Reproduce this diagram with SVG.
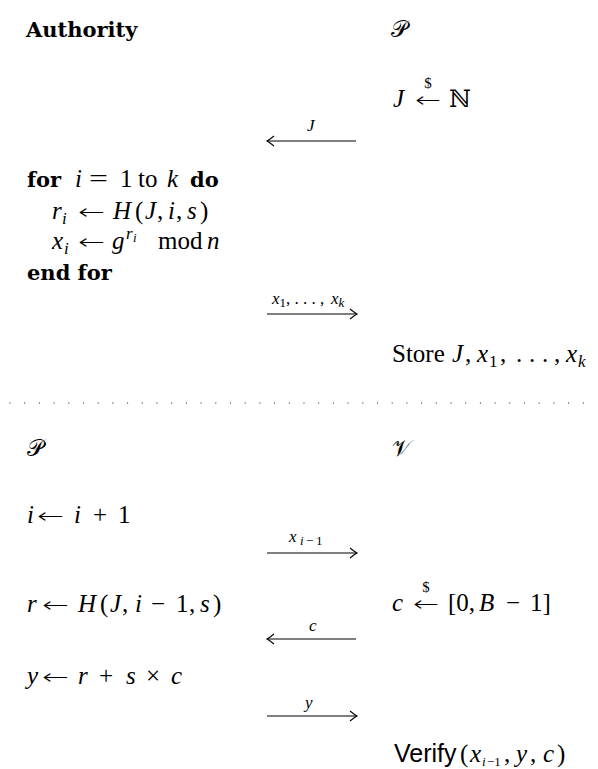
<svg xmlns="http://www.w3.org/2000/svg" width="598" height="769" viewBox="0 0 598 769">
<style>
text{fill:#000}
.kw{font-family:"DejaVu Serif","Liberation Serif",serif;font-weight:bold;font-size:21px}
.rm{font-family:"Liberation Serif",serif;font-size:25px}
.it{font-style:italic}
.ar{font-family:"DejaVu Sans",sans-serif;font-size:21px;font-weight:200}
.sf{font-family:"Liberation Sans",sans-serif;font-size:25px}
.sm{font-size:17px}
.xs{font-size:13px}
.dl{font-family:"Liberation Serif",serif;font-size:15px;fill:#000}
.lbl{font-family:"Liberation Serif",serif;font-size:17px;font-style:italic}
.cal{font-family:"DejaVu Serif","Liberation Serif",serif;font-size:23px}
.bb{font-family:"DejaVu Serif",serif;font-size:24px}
.msg{stroke:#000;stroke-width:1.1;fill:none;marker-end:url(#ah)}
</style>
<defs>
<marker id="ah" markerUnits="userSpaceOnUse" viewBox="-9 -6 10 12" refX="0" refY="0" markerWidth="10" markerHeight="12" orient="auto">
<path d="M-7,-5 Q-2,-1.2 0,0 Q-2,1.2 -7,5" fill="none" stroke="#000" stroke-width="1.1"/>
</marker>
</defs>
<rect width="598" height="769" fill="#fff"/>

<g id="authority-setup">
<text class="kw" x="26" y="37">Authority</text>
<text class="rm" y="187"><tspan class="kw" x="27">for</tspan><tspan class="it" x="75">i</tspan><tspan x="120">1</tspan><tspan x="138">to</tspan><tspan class="it" x="167">k</tspan><tspan class="kw" x="190">do</tspan></text>
<text class="rm" x="89" y="187" textLength="19" lengthAdjust="spacingAndGlyphs">=</text>
<text class="rm" y="219"><tspan class="it" x="52">r</tspan><tspan class="it sm" x="62" dy="5">i</tspan><tspan class="it" x="113" dy="-5">H</tspan><tspan x="135">(</tspan><tspan class="it" x="145">J</tspan><tspan x="157">,</tspan><tspan class="it" x="168">i</tspan><tspan x="176">,</tspan><tspan class="it" x="187">s</tspan><tspan x="200">)</tspan></text>
<text class="ar" x="78" y="219" textLength="27" lengthAdjust="spacingAndGlyphs">←</text>
<text class="rm" y="249"><tspan class="it" x="52">x</tspan><tspan class="it sm" x="64" dy="5">i</tspan><tspan class="it" x="112" dy="-5">g</tspan><tspan class="it sm" x="126" dy="-10">r</tspan><tspan class="it xs" x="133" dy="3">i</tspan><tspan x="158" dy="7">mod</tspan><tspan class="it" x="207">n</tspan></text>
<text class="ar" x="78" y="249" textLength="27" lengthAdjust="spacingAndGlyphs">←</text>
<text class="kw" x="27" y="280">end for</text>
</g>

<g id="prover-setup">
<text class="cal" x="391" y="37">𝒫</text>
<text class="rm it" x="393" y="107">J</text>
<text class="ar" x="415" y="107" textLength="26" lengthAdjust="spacingAndGlyphs">←</text>
<text class="dl" x="428" y="88" text-anchor="middle">$</text>
<text class="bb" x="449" y="107">ℕ</text>
<text class="rm" y="362"><tspan x="392">Store</tspan><tspan class="it" x="452">J</tspan><tspan x="465">,</tspan><tspan class="it" x="477">x</tspan><tspan class="sm" x="489" dy="5">1</tspan><tspan x="500" dy="-5">,</tspan><tspan x="516">.</tspan><tspan x="529">.</tspan><tspan x="542">.</tspan><tspan x="554">,</tspan><tspan class="it" x="566">x</tspan><tspan class="it sm" x="578" dy="5">k</tspan></text>
</g>

<line id="separator" x1="10" y1="403" x2="590" y2="403" stroke="#555" stroke-width="1.3" stroke-linecap="round" stroke-dasharray="0 14.7"/>

<g id="prover-proof">
<text class="cal" x="27" y="456">𝒫</text>
<text class="rm" y="523"><tspan class="it" x="27">i</tspan><tspan class="it" x="74">i</tspan><tspan x="93">+</tspan><tspan x="118">1</tspan></text>
<text class="ar" x="37" y="523" textLength="27" lengthAdjust="spacingAndGlyphs">←</text>
<text class="rm" y="612"><tspan class="it" x="27">r</tspan><tspan class="it" x="78">H</tspan><tspan x="100">(</tspan><tspan class="it" x="110">J</tspan><tspan x="122">,</tspan><tspan class="it" x="135">i</tspan><tspan x="151">−</tspan><tspan x="176">1</tspan><tspan x="189">,</tspan><tspan class="it" x="200">s</tspan><tspan x="213">)</tspan></text>
<text class="ar" x="42" y="612" textLength="27" lengthAdjust="spacingAndGlyphs">←</text>
<text class="rm" y="684"><tspan class="it" x="27">y</tspan><tspan class="it" x="78">r</tspan><tspan x="99">+</tspan><tspan class="it" x="126">s</tspan><tspan x="146">×</tspan><tspan class="it" x="171">c</tspan></text>
<text class="ar" x="42" y="684" textLength="27" lengthAdjust="spacingAndGlyphs">←</text>
</g>

<g id="verifier">
<text class="cal" x="392" y="456">𝒱</text>
<text class="rm" y="611"><tspan class="it" x="392">c</tspan><tspan x="448">[0,</tspan><tspan class="it" x="479">B</tspan><tspan x="506">−</tspan><tspan x="530">1]</tspan></text>
<text class="ar" x="413" y="611" textLength="26" lengthAdjust="spacingAndGlyphs">←</text>
<text class="dl" x="426" y="592" text-anchor="middle">$</text>
<text class="rm" y="762"><tspan class="sf" x="394">Verify</tspan><tspan x="460">(</tspan><tspan class="it" x="470">x</tspan><tspan class="it xs" x="482" dy="4">i</tspan><tspan class="xs" x="487">−1</tspan><tspan x="504" dy="-4">,</tspan><tspan class="it" x="516">y</tspan><tspan x="530">,</tspan><tspan class="it" x="543">c</tspan><tspan x="557">)</tspan></text>
</g>

<g id="connectors">
<line class="msg" x1="356" y1="141" x2="267" y2="141"/>
<text class="lbl" x="307" y="131">J</text>
<line class="msg" x1="267" y1="314" x2="357" y2="314"/>
<text class="lbl" y="304"><tspan x="272">x</tspan><tspan class="xs" font-style="normal" dy="3">1</tspan><tspan dy="-3" font-style="normal">, . . . ,</tspan><tspan x="331">x</tspan><tspan class="xs" dy="3">k</tspan></text>
<line class="msg" x1="267" y1="553" x2="357" y2="553"/>
<text class="lbl" y="542"><tspan x="289">x</tspan><tspan class="xs" x="300" dy="3">i</tspan><tspan class="xs" font-style="normal" x="306">−</tspan><tspan class="xs" font-style="normal" x="316">1</tspan></text>
<line class="msg" x1="356" y1="639" x2="267" y2="639"/>
<text class="lbl" x="309" y="631">c</text>
<line class="msg" x1="267" y1="716" x2="357" y2="716"/>
<text class="lbl" x="305" y="708">y</text>
</g>
</svg>
